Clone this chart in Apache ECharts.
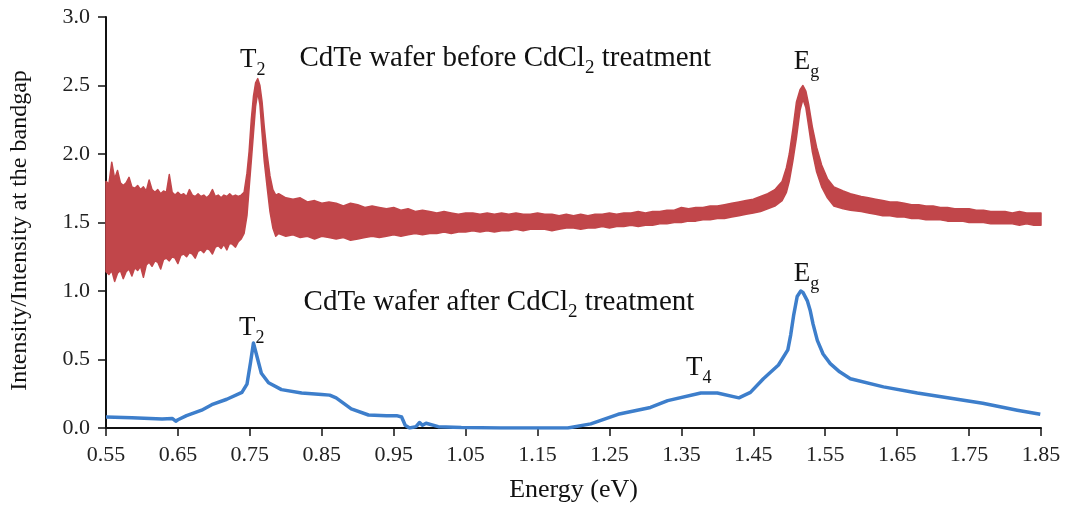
<!DOCTYPE html>
<html>
<head>
<meta charset="utf-8">
<script src="https://cdn.jsdelivr.net/npm/echarts@6/dist/echarts.min.js"></script>
<style>
  html, body { margin: 0; padding: 0; background: #fff; }
  #chart { width: 1069px; height: 512px; }
</style>
</head>
<body>
<div id="chart"></div>
<script>
// axis ticks
var xTicks = { min: 0.55, max: 1.85, step: 0.1 };
var yTicks = { min: 0, max: 3, step: 0.5 };

// red trace (before CdCl2): energy, upper and lower edge of the noisy band
var redEnergy = [
  0.550, 0.554, 0.558, 0.562, 0.566, 0.570, 0.574, 0.578, 0.582, 0.586,
  0.590, 0.594, 0.598, 0.602, 0.606, 0.610, 0.614, 0.618, 0.622, 0.626,
  0.630, 0.634, 0.638, 0.642, 0.646, 0.650, 0.654, 0.658, 0.662, 0.666,
  0.670, 0.674, 0.678, 0.682, 0.686, 0.690, 0.694, 0.698, 0.702, 0.706,
  0.710, 0.714, 0.718, 0.722, 0.726, 0.730, 0.734, 0.738,
  0.742, 0.746, 0.749, 0.752, 0.755, 0.758, 0.761, 0.764, 0.767, 0.770,
  0.774, 0.778, 0.782, 0.786,
  0.79, 0.80, 0.81, 0.82, 0.83, 0.84, 0.85, 0.86, 0.87, 0.88,
  0.89, 0.90, 0.91, 0.92, 0.93, 0.94, 0.95, 0.96, 0.97, 0.98,
  0.99, 1.00, 1.01, 1.02, 1.03, 1.04, 1.05, 1.06, 1.07, 1.08,
  1.09, 1.10, 1.11, 1.12, 1.13, 1.14, 1.15, 1.16, 1.17, 1.18,
  1.19, 1.20, 1.21, 1.22, 1.23, 1.24, 1.25, 1.26, 1.27, 1.28,
  1.29, 1.30, 1.31, 1.32, 1.33, 1.34, 1.35, 1.36, 1.37, 1.38,
  1.39, 1.40, 1.41, 1.42, 1.43, 1.44, 1.45, 1.46, 1.47, 1.48, 1.485,
  1.490, 1.496, 1.500, 1.505, 1.510, 1.515, 1.519, 1.523, 1.527, 1.532,
  1.538, 1.545, 1.553, 1.562, 1.575,
  1.585, 1.60, 1.61, 1.62, 1.63, 1.64, 1.65, 1.66, 1.67, 1.68,
  1.69, 1.70, 1.71, 1.72, 1.73, 1.74, 1.75, 1.76, 1.77, 1.78,
  1.79, 1.80, 1.81, 1.82, 1.83, 1.84, 1.85
];
var redUpper = [
  1.80, 1.78, 1.94, 1.82, 1.88, 1.79, 1.77, 1.79, 1.83, 1.76,
  1.75, 1.77, 1.74, 1.76, 1.73, 1.81, 1.74, 1.72, 1.74, 1.71,
  1.73, 1.72, 1.85, 1.72, 1.70, 1.72, 1.70, 1.71, 1.69, 1.74,
  1.70, 1.69, 1.71, 1.69, 1.70, 1.68, 1.70, 1.74, 1.69, 1.70,
  1.68, 1.70, 1.69, 1.71, 1.69, 1.70, 1.69, 1.70,
  1.72, 1.86, 2.02, 2.25, 2.42, 2.52, 2.55, 2.50, 2.38, 2.20,
  2.00, 1.84, 1.74, 1.70,
  1.71, 1.68, 1.67, 1.68, 1.65, 1.66, 1.64, 1.65, 1.64, 1.62,
  1.64, 1.63, 1.61, 1.62, 1.61, 1.60, 1.61, 1.59, 1.60, 1.58,
  1.59, 1.58, 1.57, 1.58, 1.57, 1.56, 1.57, 1.57, 1.56, 1.57,
  1.56, 1.57, 1.56, 1.57, 1.56, 1.56, 1.57, 1.56, 1.56, 1.55,
  1.56, 1.55, 1.56, 1.55, 1.56, 1.56, 1.57, 1.56, 1.57, 1.57,
  1.58, 1.57, 1.58, 1.58, 1.59, 1.59, 1.61, 1.60, 1.61, 1.61,
  1.62, 1.62, 1.63, 1.64, 1.65, 1.66, 1.67, 1.69, 1.71, 1.74, 1.77,
  1.80, 1.90, 2.00, 2.18, 2.38, 2.47, 2.50, 2.46, 2.36, 2.20,
  2.05, 1.92, 1.82, 1.76, 1.73,
  1.71, 1.69, 1.68, 1.67, 1.66, 1.65, 1.65, 1.64, 1.63, 1.63,
  1.62, 1.62, 1.61, 1.61, 1.60, 1.60, 1.60, 1.59, 1.59, 1.58,
  1.58, 1.58, 1.57, 1.58, 1.57, 1.57, 1.57
];
var redLower = [
  1.14, 1.12, 1.15, 1.07, 1.13, 1.15, 1.09, 1.14, 1.16, 1.11,
  1.17, 1.15, 1.18, 1.10, 1.19, 1.21, 1.18, 1.22, 1.21, 1.16,
  1.23, 1.24, 1.22, 1.25, 1.24, 1.20, 1.26, 1.27, 1.25, 1.28,
  1.27, 1.24, 1.29, 1.30, 1.28, 1.31, 1.30, 1.27, 1.32, 1.33,
  1.31, 1.34, 1.30, 1.35, 1.34, 1.32, 1.36, 1.38,
  1.42, 1.55, 1.75, 1.95, 2.15, 2.35, 2.45, 2.36, 2.15, 1.95,
  1.76, 1.58, 1.46, 1.40,
  1.42, 1.40, 1.41, 1.39, 1.40, 1.38, 1.40, 1.39, 1.38, 1.39,
  1.37, 1.38, 1.39, 1.40, 1.39, 1.40, 1.41, 1.40, 1.41, 1.42,
  1.41, 1.42, 1.42, 1.43, 1.42, 1.43, 1.43, 1.44, 1.43, 1.44,
  1.43, 1.44, 1.44, 1.45, 1.44, 1.45, 1.45, 1.45, 1.44, 1.45,
  1.46, 1.46, 1.45, 1.46, 1.46, 1.47, 1.46, 1.47, 1.47, 1.48,
  1.47, 1.48, 1.48, 1.49, 1.49, 1.50, 1.50, 1.51, 1.51, 1.52,
  1.52, 1.53, 1.53, 1.54, 1.55, 1.56, 1.57, 1.58, 1.60, 1.62, 1.64,
  1.66, 1.72, 1.80, 1.95, 2.12, 2.32, 2.40, 2.34, 2.20, 2.02,
  1.87, 1.76, 1.68, 1.62, 1.60,
  1.59, 1.58, 1.57, 1.56, 1.55, 1.55, 1.54, 1.54, 1.53, 1.53,
  1.52, 1.52, 1.52, 1.51, 1.51, 1.51, 1.50, 1.50, 1.50, 1.49,
  1.49, 1.49, 1.49, 1.48, 1.49, 1.48, 1.48
];

// blue trace (after CdCl2)
var blueEnergy = [
  0.550, 0.586, 0.628, 0.642, 0.647, 0.650, 0.662, 0.683, 0.697, 0.718,
  0.739, 0.746, 0.751, 0.755, 0.760, 0.766, 0.776, 0.794, 0.822, 0.850,
  0.861, 0.870, 0.891, 0.915, 0.940, 0.954, 0.961, 0.966, 0.972, 0.981,
  0.986, 0.990, 0.995, 1.012, 1.044, 1.099, 1.192, 1.224, 1.262, 1.307,
  1.331, 1.377, 1.400, 1.430, 1.446, 1.464, 1.485, 1.498, 1.502, 1.506,
  1.511, 1.516, 1.519, 1.525, 1.529, 1.533, 1.539, 1.547, 1.557, 1.570,
  1.585, 1.631, 1.678, 1.769, 1.817, 1.849
];
var blueValue = [
  0.08, 0.075, 0.065, 0.07, 0.05, 0.06, 0.09, 0.13, 0.17, 0.21,
  0.26, 0.32, 0.48, 0.62, 0.52, 0.40, 0.33, 0.28, 0.255, 0.245,
  0.24, 0.22, 0.14, 0.095, 0.09, 0.09, 0.08, 0.02, 0.0, 0.01,
  0.04, 0.02, 0.035, 0.01, 0.003, 0.0, 0.0, 0.03, 0.10, 0.15,
  0.20, 0.255, 0.255, 0.22, 0.26, 0.36, 0.46, 0.57, 0.68, 0.82,
  0.96, 1.0, 0.99, 0.93, 0.86, 0.76, 0.64, 0.54, 0.47, 0.41,
  0.36, 0.30, 0.255, 0.18, 0.13, 0.10
];

var RED = '#c1464a';
var BLUE = '#3d7ecb';
var FONT = 'Liberation Serif';

var blueData = blueEnergy.map(function (e, i) { return [e, blueValue[i]]; });

var chart = echarts.init(document.getElementById('chart'), null, { renderer: 'canvas' });

// the noisy red trace is drawn as one closed band: upper edge out, lower edge back
function renderRedBand(params, api) {
  var pts = [];
  for (var i = 0; i < redEnergy.length; i++) {
    pts.push(api.coord([redEnergy[i], redUpper[i]]));
  }
  for (var j = redEnergy.length - 1; j >= 0; j--) {
    pts.push(api.coord([redEnergy[j], redLower[j]]));
  }
  return {
    type: 'polygon',
    shape: { points: pts },
    style: { fill: RED, stroke: RED, lineWidth: 1.5, lineJoin: 'round' }
  };
}

var option = {
  animation: false,
  backgroundColor: '#fff',
  grid: { left: 104, right: 28, top: 17, bottom: 84 },
  xAxis: {
    type: 'value',
    min: xTicks.min, max: xTicks.max, interval: xTicks.step,
    name: 'Energy (eV)', nameLocation: 'middle', nameGap: 49,
    nameTextStyle: { fontFamily: FONT, fontSize: 26, color: '#111' },
    axisLine: { onZero: false, lineStyle: { color: '#111', width: 2 } },
    axisTick: { length: 8, lineStyle: { color: '#111', width: 1.5 } },
    axisLabel: {
      fontFamily: FONT, fontSize: 22, color: '#222', margin: 16,
      formatter: function (v) { return v.toFixed(2); }
    },
    splitLine: { show: false }
  },
  yAxis: {
    type: 'value',
    min: yTicks.min, max: yTicks.max, interval: yTicks.step,
    name: 'Intensity/Intensity at the bandgap', nameLocation: 'middle', nameGap: 74,
    nameTextStyle: { fontFamily: FONT, fontSize: 24, color: '#111', padding: [0, 16, 0, 0] },
    axisLine: { show: true, lineStyle: { color: '#111', width: 2 } },
    axisTick: { show: true, length: 8, lineStyle: { color: '#111', width: 1.5 } },
    axisLabel: {
      fontFamily: FONT, fontSize: 22, color: '#222', margin: 16,
      formatter: function (v) { return v.toFixed(1); }
    },
    splitLine: { show: false }
  },
  series: [
    {
      name: 'before', type: 'custom', coordinateSystem: 'cartesian2d',
      data: [[redEnergy[0], redLower[0]]], silent: true,
      renderItem: renderRedBand
    },
    {
      name: 'after', type: 'line',
      data: blueData, symbol: 'none', silent: true,
      lineStyle: { color: BLUE, width: 3.5, join: 'round' }
    }
  ]
};
chart.setOption(option);

// annotations with subscripts, anchored in data coordinates
var measureCtx = document.createElement('canvas').getContext('2d');
function textWidth(str, size) {
  measureCtx.font = size + 'px "' + FONT + '"';
  return measureCtx.measureText(str).width;
}
var notes = [
  { parts: ['T', '2'], at: [0.754, 2.686], align: 'center', size: 27 },
  { parts: ['CdTe wafer before CdCl', '2', ' treatment'], at: [0.819, 2.701], align: 'left', size: 29 },
  { parts: ['E', 'g'], at: [1.524, 2.672], align: 'center', size: 27 },
  { parts: ['T', '2'], at: [0.7526, 0.730], align: 'center', size: 27 },
  { parts: ['CdTe wafer after CdCl', '2', ' treatment'], at: [0.8247, 0.920], align: 'left', size: 29 },
  { parts: ['E', 'g'], at: [1.524, 1.124], align: 'center', size: 27 },
  { parts: ['T', '4'], at: [1.374, 0.438], align: 'center', size: 27 }
];
var graphics = [];
notes.forEach(function (n) {
  var p = chart.convertToPixel({ gridIndex: 0 }, n.at);
  var subSize = Math.round(n.size * 0.65);
  var widths = n.parts.map(function (t, k) { return textWidth(t, k % 2 ? subSize : n.size); });
  var total = widths.reduce(function (a, b) { return a + b; }, 0);
  var x = n.align === 'center' ? p[0] - total / 2 : p[0];
  n.parts.forEach(function (t, k) {
    var isSub = k % 2 === 1;
    graphics.push({
      type: 'text', x: x, y: isSub ? p[1] + 10 : p[1], silent: true,
      style: {
        text: t, fill: '#111', fontFamily: FONT, fontSize: isSub ? subSize : n.size,
        align: 'left', verticalAlign: 'middle'
      }
    });
    x += widths[k];
  });
});
chart.setOption({ graphic: graphics });
</script>
</body>
</html>
